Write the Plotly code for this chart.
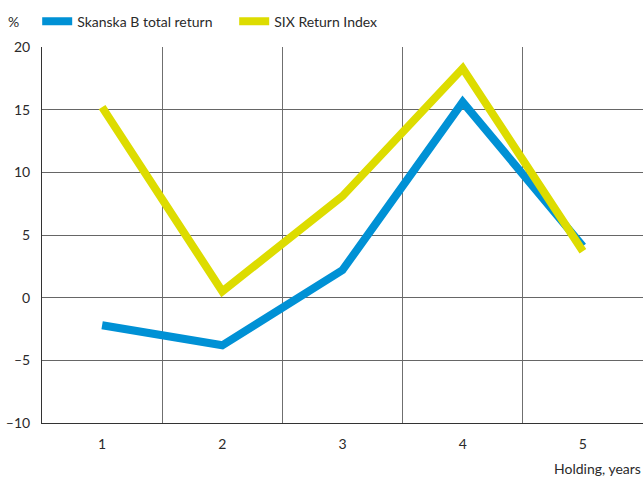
import plotly.graph_objects as go

years = [1, 2, 3, 4, 5]
skanska = [-2.2, -3.8, 2.2, 15.6, 4.1]
six = [15.2, 0.5, 8.1, 18.3, 3.7]
y_ticks = [-10, -5, 0, 5, 10, 15, 20]
y_tick_labels = ["\u201310", "\u20135", "0", "5", "10", "15", "20"]

BLUE = "#0091D5"
YELLOW = "#DDDC00"
FONT = "Lato, sans-serif"
TXT = "#2a2a2a"

fig = go.Figure()
fig.add_trace(go.Scatter(x=years, y=skanska, mode="lines", name="Skanska B total return",
                         line=dict(color=BLUE, width=8)))
fig.add_trace(go.Scatter(x=years, y=six, mode="lines", name="SIX Return Index",
                         line=dict(color=YELLOW, width=8)))

fig.update_layout(
    width=643, height=477,
    margin=dict(l=42, r=0, t=47, b=54, autoexpand=False),
    plot_bgcolor="white", paper_bgcolor="white",
    font=dict(family=FONT, size=14, color=TXT),
    legend=dict(orientation="h", x=-0.008, xanchor="left", y=1.11, yanchor="top",
                font=dict(size=14, color=TXT), entrywidth=152, entrywidthmode="pixels",
                traceorder="normal"),
    xaxis=dict(range=[0.5, 5.5], tickvals=years, ticktext=[str(v) for v in years],
               showgrid=False, zeroline=False, showline=True, linecolor="#333333",
               linewidth=1, ticks="", ticklabelstandoff=8, automargin=False,
               minor=dict(tickvals=[1.5, 2.5, 3.5, 4.5], showgrid=True,
                          gridcolor="#6f6f6f", gridwidth=1, ticks="")),
    yaxis=dict(range=[-10, 20], tickvals=y_ticks, ticktext=y_tick_labels,
               showgrid=True, gridcolor="#666666", gridwidth=1, automargin=False,
               zeroline=False, showline=True, linecolor="#333333", linewidth=1,
               ticks="", ticklabelstandoff=8),
    annotations=[
        dict(text="%", xref="paper", yref="paper", x=-0.0466, y=1.067, xanchor="center",
             yanchor="middle", showarrow=False, font=dict(size=14, color=TXT)),
        dict(text="Holding, years", xref="paper", yref="paper", x=1.0, y=-0.12,
             xanchor="right", yanchor="middle", showarrow=False,
             font=dict(size=14, color=TXT)),
    ],
)

fig.write_html("out.html", config={"displayModeBar": False},
               post_script="document.body.style.margin='0';")
